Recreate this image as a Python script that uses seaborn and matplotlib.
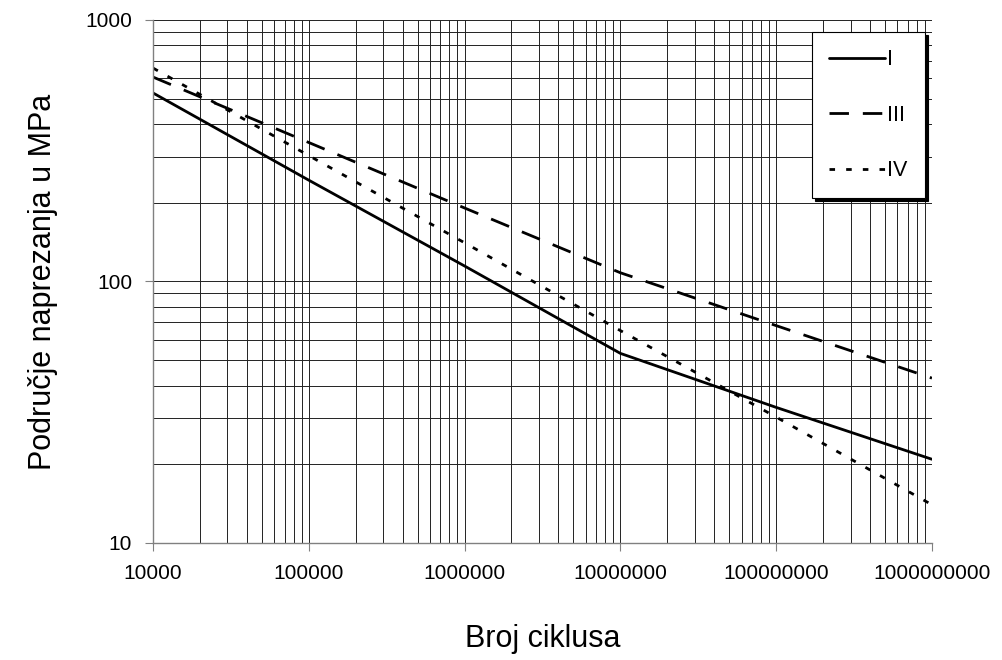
import pandas as pd
import matplotlib
matplotlib.use("Agg")
import matplotlib.pyplot as plt
import matplotlib.ticker as mticker
import seaborn as sns

# broj ciklusa (x) i naprezanja (MPa) po krivuljama, očitano s grafa
ciklusi = [1e4, 1e5, 1e6, 1e7, 1e8, 1e9]
krivulja_I = [526, 244, 114.6, 53.1, 33.0, 20.9]
krivulja_III = [605, 340, 191, 108, 67.8, 42.7]
krivulja_IV = [655, 303, 140.6, 64.9, 30.3, 14.0]
oznake = ["I", "III", "IV"]

x_ticks = [1e4, 1e5, 1e6, 1e7, 1e8, 1e9]
x_tick_labels = ["10000", "100000", "1000000", "10000000", "100000000", "1000000000"]
y_ticks = [10, 100, 1000]
y_tick_labels = ["10", "100", "1000"]

# long-form tablica za seaborn
redovi = []
for oznaka, vrijednosti in zip(oznake, [krivulja_I, krivulja_III, krivulja_IV]):
    for c, v in zip(ciklusi, vrijednosti):
        redovi.append({"Broj ciklusa": c, "Naprezanje": v, "Krivulja": oznaka})
df = pd.DataFrame(redovi)

sns.set_style("white")
plt.rcParams["font.family"] = ["Liberation Sans", "DejaVu Sans"]
plt.rcParams["text.color"] = "black"
plt.rcParams["axes.labelcolor"] = "black"
plt.rcParams["xtick.labelcolor"] = "black"
plt.rcParams["ytick.labelcolor"] = "black"

fig = plt.figure(figsize=(10.02, 6.6), dpi=100)
ax = fig.add_axes([0.1527, 0.1773, 0.7774, 0.7924])

ax.set_xscale("log")
ax.set_yscale("log")

sns.lineplot(data=df, x="Broj ciklusa", y="Naprezanje", style="Krivulja",
             style_order=oznake,
             dashes={"I": "", "III": (7, 5), "IV": (2, 4)},
             color="black", linewidth=2.0, ax=ax)

ax.set_xlim(1e4, 1e9)
ax.set_ylim(10, 1000)

ax.xaxis.set_major_locator(mticker.FixedLocator(x_ticks))
ax.xaxis.set_major_formatter(mticker.FixedFormatter(x_tick_labels))
ax.xaxis.set_minor_locator(mticker.LogLocator(base=10, subs=range(2, 10), numticks=20))
ax.xaxis.set_minor_formatter(mticker.NullFormatter())
ax.yaxis.set_major_locator(mticker.FixedLocator(y_ticks))
ax.yaxis.set_major_formatter(mticker.FixedFormatter(y_tick_labels))
ax.yaxis.set_minor_locator(mticker.LogLocator(base=10, subs=range(2, 10), numticks=20))
ax.yaxis.set_minor_formatter(mticker.NullFormatter())

ax.grid(True, which="both", color="#222222", linewidth=0.7)
ax.set_axisbelow(True)

ax.tick_params(axis="both", which="major", direction="out", length=6, width=0.8,
               color="#808080", labelsize=15, pad=9, bottom=True, left=True,
               labelcolor="black")
ax.tick_params(axis="both", which="minor", length=0, bottom=False, left=False)

for s in ["top", "right"]:
    ax.spines[s].set_visible(False)
for s in ["left", "bottom"]:
    ax.spines[s].set_color("#808080")
    ax.spines[s].set_linewidth(1.0)

ax.set_xlabel("Broj ciklusa", fontsize=22, labelpad=30, color="black")
ax.set_ylabel("Područje naprezanja u MPa", fontsize=22, labelpad=20, color="black")

leg = ax.legend(title=None, loc="upper right", bbox_to_anchor=(0.991, 0.977),
                frameon=True, fancybox=False, shadow={"color": "black", "alpha": 1},
                fontsize=15.5, handlelength=2.6, handletextpad=0.1,
                labelspacing=1.6, borderpad=0.8, borderaxespad=0)
leg.get_frame().set_edgecolor("black")
leg.get_frame().set_linewidth(0.8)
leg.get_frame().set_facecolor("white")
leg.get_frame().set_alpha(1)
for t in leg.get_texts():
    t.set_color("black")

fig.savefig("out.png", dpi=100)
